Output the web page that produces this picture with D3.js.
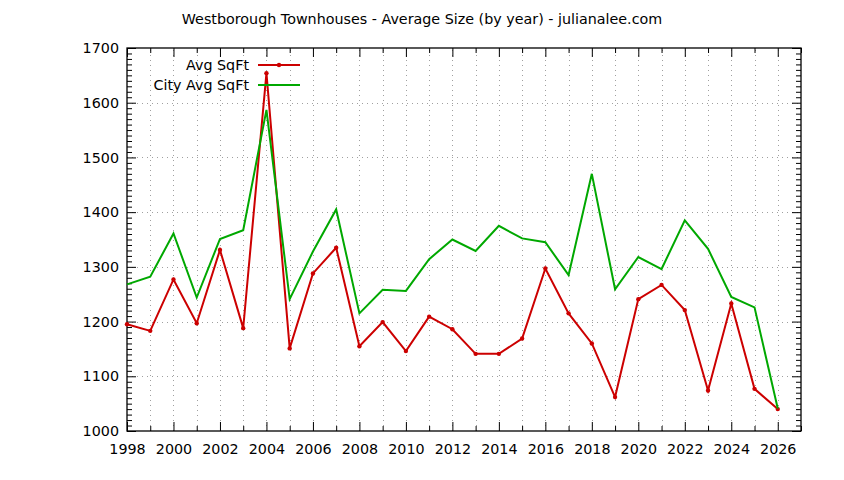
<!DOCTYPE html>
<html>
<head>
<meta charset="utf-8">
<script src="https://cdn.jsdelivr.net/npm/d3@7/dist/d3.min.js"></script>
<style>
  body { margin: 0; background: #fff; }
  svg text { font-family: "DejaVu Sans", sans-serif; fill: #000; }
</style>
</head>
<body>
<div id="chart"></div>
<script>
var years = [1998,1999,2000,2001,2002,2003,2004,2005,2006,2007,2008,2009,2010,2011,2012,
             2013,2014,2015,2016,2017,2018,2019,2020,2021,2022,2023,2024,2025,2026];
var avgSqft = [1195,1183,1277,1197,1331,1188,1654,1151,1288,1335,1155,1199,1146,1209,1186,
               1141,1141,1169,1297,1215,1160,1062,1241,1267,1221,1074,1233,1077,1040];
var cityAvgSqft = [1268,1282,1361,1244,1351,1367,1587,1241,1328,1405,1215,1258,1256,1314,1350,
                   1329,1375,1352,1345,1285,1470,1259,1318,1296,1385,1333,1245,1226,1041];
var seriesNames = ["Avg SqFt", "City Avg SqFt"];
var yTicks = [1000,1100,1200,1300,1400,1500,1600,1700];
var title = "Westborough Townhouses - Average Size (by year) - julianalee.com";

var W = 844, H = 480;
var margin = {left:127, right:43, top:48, bottom:49};
var fs = 14.3;

var svg = d3.select("#chart").append("svg")
    .attr("width", W).attr("height", H);

var x = d3.scaleLinear().domain([1998, 2027]).range([margin.left, W - margin.right]);
var y = d3.scaleLinear().domain([1000, 1700]).range([H - margin.bottom, margin.top]);

var allYears = d3.range(1998, 2028);
var majorYears = allYears.filter(function(d){ return d % 2 === 0 && d <= 2026; });
var minorYears = allYears.filter(function(d){ return d % 2 === 1; });
var minorY = d3.range(1000, 1701, 10).filter(function(d){ return d % 100 !== 0; });

// grid
var grid = svg.append("g").attr("stroke", "#a0a0a0").attr("stroke-width", 1)
    .attr("stroke-dasharray", "1,4");
grid.selectAll(".vg").data(allYears.filter(function(d){ return d > 1998 && d < 2027; }))
  .enter().append("line")
    .attr("x1", function(d){ return Math.round(x(d)) + 0.5; })
    .attr("x2", function(d){ return Math.round(x(d)) + 0.5; })
    .attr("y1", y(1000)).attr("y2", y(1700));
grid.selectAll(".hg").data(yTicks.filter(function(d){ return d > 1000 && d < 1700; }))
  .enter().append("line")
    .attr("x1", x(1998)).attr("x2", x(2027))
    .attr("y1", function(d){ return Math.round(y(d)) + 0.5; })
    .attr("y2", function(d){ return Math.round(y(d)) + 0.5; });

// axes (ticks mirrored)
function noDomain(g){ g.select(".domain").remove(); g.selectAll("text").remove(); }
svg.append("g").attr("transform", "translate(0," + y(1000) + ")")
  .call(d3.axisBottom(x).tickValues(majorYears).tickSize(-9).tickSizeOuter(0).tickFormat(d3.format("d")))
  .call(function(g){ g.select(".domain").remove();
    g.selectAll("text").attr("y", 13).attr("font-size", fs).attr("font-family", null); });
svg.append("g").attr("transform", "translate(0," + y(1000) + ")")
  .call(d3.axisBottom(x).tickValues(minorYears).tickSize(-5)).call(noDomain);
svg.append("g").attr("transform", "translate(0," + y(1700) + ")")
  .call(d3.axisTop(x).tickValues(majorYears).tickSize(-9)).call(noDomain);
svg.append("g").attr("transform", "translate(0," + y(1700) + ")")
  .call(d3.axisTop(x).tickValues(minorYears).tickSize(-5)).call(noDomain);

svg.append("g").attr("transform", "translate(" + x(1998) + ",0)")
  .call(d3.axisLeft(y).tickValues(yTicks).tickSize(-9).tickFormat(d3.format("d")))
  .call(function(g){ g.select(".domain").remove();
    g.selectAll("text").attr("x", -8).attr("font-size", fs).attr("font-family", null); });
svg.append("g").attr("transform", "translate(" + x(1998) + ",0)")
  .call(d3.axisLeft(y).tickValues(minorY).tickSize(-5)).call(noDomain);
svg.append("g").attr("transform", "translate(" + x(2027) + ",0)")
  .call(d3.axisRight(y).tickValues(yTicks).tickSize(-9)).call(noDomain);
svg.append("g").attr("transform", "translate(" + x(2027) + ",0)")
  .call(d3.axisRight(y).tickValues(minorY).tickSize(-5)).call(noDomain);

svg.append("rect")
    .attr("x", x(1998)).attr("y", y(1700))
    .attr("width", x(2027) - x(1998)).attr("height", y(1000) - y(1700))
    .attr("fill", "none").attr("stroke", "#000").attr("stroke-width", 1.3);

// lines
var line = d3.line()
    .x(function(d){ return x(d[0]); })
    .y(function(d){ return y(d[1]); });

var greenData = years.map(function(yr, i){ return [yr, cityAvgSqft[i]]; });
var redData = years.map(function(yr, i){ return [yr, avgSqft[i]]; });

svg.append("path").datum(redData)
    .attr("d", line).attr("fill", "none")
    .attr("stroke", "#cc0000").attr("stroke-width", 2);
svg.selectAll(".pt").data(redData).enter().append("circle")
    .attr("cx", function(d){ return x(d[0]); })
    .attr("cy", function(d){ return y(d[1]); })
    .attr("r", 2.2).attr("fill", "#cc0000");
svg.append("path").datum(greenData)
    .attr("d", line).attr("fill", "none")
    .attr("stroke", "#00a800").attr("stroke-width", 2);

// legend
var legend = svg.append("g");
var colors = ["#cc0000", "#00a800"];
seriesNames.forEach(function(name, i){
  var ly = 65 + i * 20;
  legend.append("text").text(name)
    .attr("x", 249).attr("y", ly).attr("dy", "0.35em")
    .attr("text-anchor", "end").attr("font-size", fs);
  legend.append("line")
    .attr("x1", 258).attr("x2", 300).attr("y1", ly).attr("y2", ly)
    .attr("stroke", colors[i]).attr("stroke-width", 2);
  if (i === 0) {
    legend.append("circle").attr("cx", 279).attr("cy", ly).attr("r", 2.2).attr("fill", colors[i]);
  }
});

svg.append("text").text(title)
    .attr("x", 422).attr("y", 19).attr("dy", "0.35em")
    .attr("text-anchor", "middle").attr("font-size", fs);
</script>
</body>
</html>
